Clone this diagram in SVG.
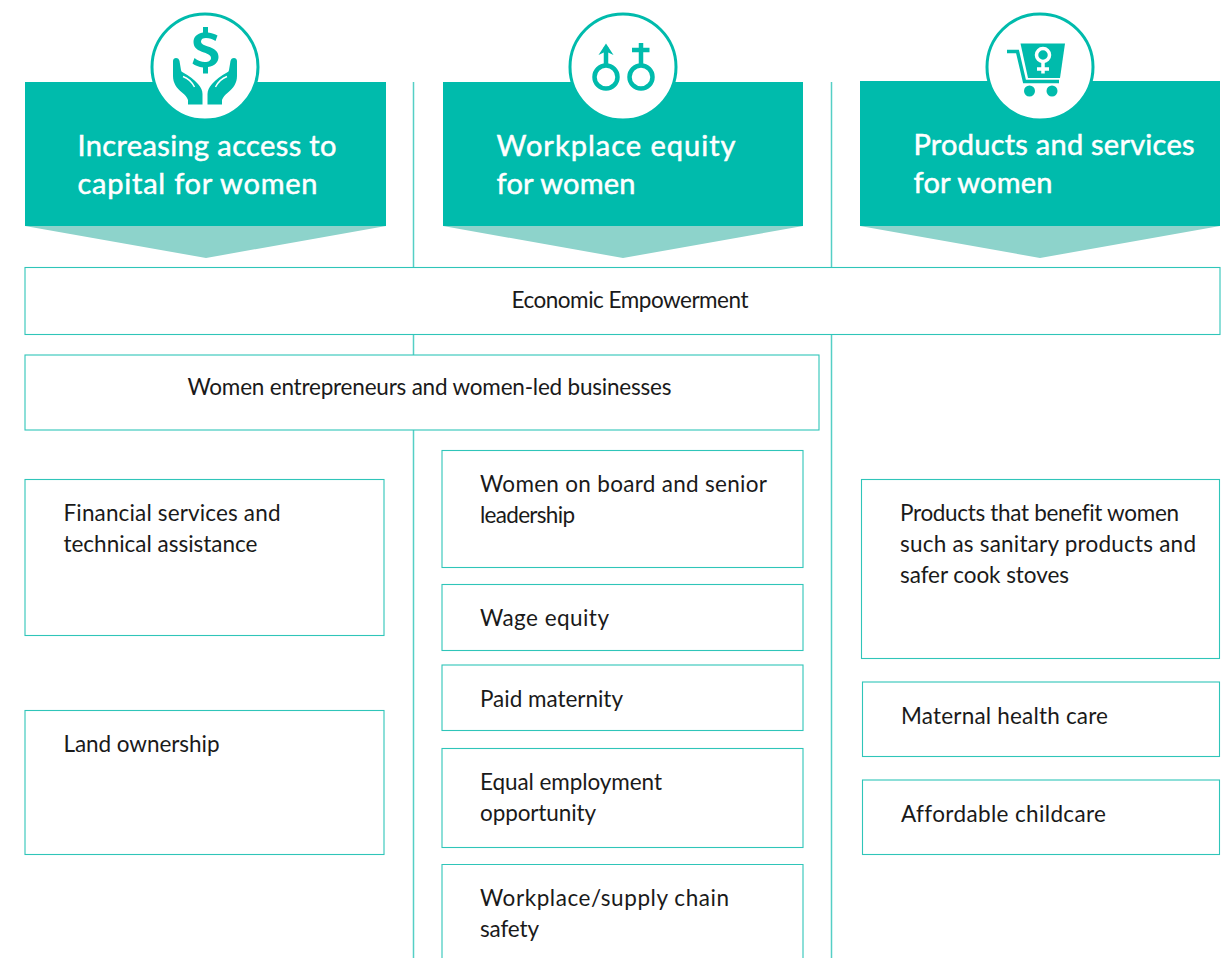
<svg xmlns="http://www.w3.org/2000/svg" width="1229" height="958" viewBox="0 0 1229 958">
<defs>
<g id="hand">
<path class="i" d="M176 58c2 0 3 1 3.500 3l1.500 9c.3 1.500 1 2 2 2.500c6 3 11 7 15 11.500c3 3.500 4.500 6.500 4.500 10V104.500H188V100c-1-3-3-5-6-7.500c-5.500-4.500-9-9.500-9-16.500V61c0-2 1.500-3 3-3z"/>
<path d="M183 76.500c4 1.500 9 5.500 11.500 10.500" fill="none" stroke="#fff" stroke-width="1.400"/>
</g>
</defs>
<style>
.h{fill:#00bbac}
.tri{fill:#8dd3cb}
.box{fill:#fff;stroke:#2fc5b9;stroke-width:1.1}
.ln{stroke:#55cfc5;stroke-width:1.5;fill:none}
.c{fill:#fff;stroke:#00bbac;stroke-width:3}
.i{fill:#00bbac}
.is{fill:none;stroke:#00bbac}
text{font-family:"Lato","Liberation Sans",sans-serif;font-variant-ligatures:none}
.t{font-size:22.5px;fill:#1a1a1a}
.w{font-size:29px;fill:#fff;stroke:#fff;stroke-width:.5px}
</style>
<rect width="1229" height="958" fill="#fff"/>
<g id="connectors">
<path class="ln" d="M413.500 82V958M831.500 82V958"/>
</g>
<g id="col1-header">
<rect class="h" x="25" y="82" width="361" height="144"/>
<path class="tri" d="M25 226H386L206 258Z"/>
<circle class="c" cx="205" cy="67" r="53"/>
<path class="i" d="M203 27h5v5.500c4 .5 7 1.500 9.500 3l-2 5.500c-3-2-6-3-9.500-3-3 0-5 1-5 3.500 0 2.500 3 3.500 7 5 6.500 2 10.500 5 10.500 10.500 0 5-3.500 9-10.500 10v6.500h-5v-6c-4-.5-8-2-10.500-4l2-5.500c3 2.500 7 4 10.500 4 3.500 0 6-1.500 6-4 0-2.500-2.500-4-7-5.500-6-2-10.500-4.500-10.500-10.500 0-5 3.500-8.500 9.500-9.500z"/>
<use href="#hand"/>
<use href="#hand" transform="translate(410) scale(-1,1)"/>
<text class="w" x="77.500" y="156" textLength="259">Increasing access to</text>
<text class="w" x="77.500" y="194" textLength="240">capital for women</text>
</g>
<g id="col2-header">
<rect class="h" x="443" y="82" width="360" height="144"/>
<path class="tri" d="M443 226H803L623 258Z"/>
<circle class="c" cx="623" cy="67" r="53"/>
<circle class="is" cx="606" cy="77" r="11.500" stroke-width="4.500"/>
<circle class="is" cx="641" cy="77" r="11.500" stroke-width="4.500"/>
<path class="is" stroke-width="4.500" d="M606 65V47M641 65V43M632 50H649.500"/>
<path class="i" d="M606 43.500L598.500 55L606 51.500L613.500 55Z"/>
<text class="w" x="496.500" y="156" textLength="239">Workplace equity</text>
<text class="w" x="496.500" y="194" textLength="139">for women</text>
</g>
<g id="col3-header">
<rect class="h" x="860" y="81" width="360" height="145"/>
<path class="tri" d="M860 226H1220L1040 258Z"/>
<circle class="c" cx="1040" cy="67" r="53"/>
<path class="i" d="M1020.500 43.500H1065L1060 78H1028Z"/>
<path class="is" stroke-width="3.500" d="M1007 51.500H1017.500L1024.500 81.500H1059"/>
<circle class="i" cx="1029.500" cy="91" r="5.500"/>
<circle class="i" cx="1052" cy="91" r="5.500"/>
<circle cx="1043" cy="55" r="6.500" fill="none" stroke="#fff" stroke-width="3.500"/>
<path fill="none" stroke="#fff" stroke-width="3.500" d="M1043 62V73.500M1037 69H1049"/>
<text class="w" x="913.500" y="155" textLength="281">Products and services</text>
<text class="w" x="913.500" y="193" textLength="139">for women</text>
</g>
<g id="economic-empowerment">
<rect class="box" x="25" y="267.500" width="1195" height="67"/>
<text class="t" x="511.500" y="308" textLength="237">Economic Empowerment</text>
</g>
<g id="women-entrepreneurs">
<rect class="box" x="25" y="355" width="794" height="75"/>
<text class="t" x="187.500" y="395" textLength="484">Women entrepreneurs and women-led businesses</text>
</g>
<g id="financial-services">
<rect class="box" x="25" y="479.500" width="359" height="156"/>
<text class="t" x="63.500" y="521" textLength="217">Financial services and</text>
<text class="t" x="63.500" y="552" textLength="194">technical assistance</text>
</g>
<g id="land-ownership">
<rect class="box" x="25" y="710.500" width="359" height="144"/>
<text class="t" x="63.500" y="752" textLength="156">Land ownership</text>
</g>
<g id="women-on-board">
<rect class="box" x="442" y="450.500" width="361" height="117"/>
<text class="t" x="480" y="492" textLength="287">Women on board and senior</text>
<text class="t" x="480" y="523" textLength="95">leadership</text>
</g>
<g id="wage-equity">
<rect class="box" x="442" y="584.500" width="361" height="66"/>
<text class="t" x="480" y="626" textLength="129">Wage equity</text>
</g>
<g id="paid-maternity">
<rect class="box" x="442" y="665" width="361" height="65.500"/>
<text class="t" x="480" y="707" textLength="143">Paid maternity</text>
</g>
<g id="equal-employment">
<rect class="box" x="442" y="748.500" width="361" height="99"/>
<text class="t" x="480" y="790" textLength="182">Equal employment</text>
<text class="t" x="480" y="821" textLength="116">opportunity</text>
</g>
<g id="workplace-safety">
<path class="box" d="M442 958V864.500H803V958"/>
<text class="t" x="480" y="906" textLength="249">Workplace/supply chain</text>
<text class="t" x="480" y="937" textLength="59">safety</text>
</g>
<g id="products-benefit">
<rect class="box" x="861.500" y="479.500" width="358" height="179"/>
<text class="t" x="900" y="521" textLength="279">Products that benefit women</text>
<text class="t" x="900" y="552" textLength="296">such as sanitary products and</text>
<text class="t" x="900" y="583" textLength="169">safer cook stoves</text>
</g>
<g id="maternal-health">
<rect class="box" x="862.500" y="682" width="357" height="74.500"/>
<text class="t" x="901" y="724" textLength="207">Maternal health care</text>
</g>
<g id="affordable-childcare">
<rect class="box" x="862.500" y="780" width="357" height="74.500"/>
<text class="t" x="901" y="822" textLength="205">Affordable childcare</text>
</g>
</svg>
